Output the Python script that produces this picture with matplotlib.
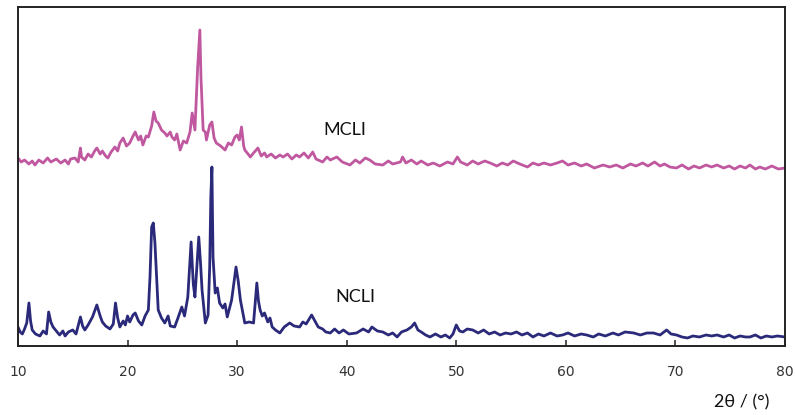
import numpy as np
import matplotlib
matplotlib.use('Agg')
import matplotlib.pyplot as plt

# 2theta (graus) e intensidade relativa - MCLI
mcli_2theta = [10.0, 10.3, 10.6, 11.0, 11.3, 11.55, 11.9, 12.3, 12.7, 13.0,
               13.5, 13.9, 14.3, 14.6, 14.8, 15.2, 15.5, 15.7, 15.8, 16.1,
               16.4, 16.7, 17.0, 17.2, 17.5, 17.7, 18.0, 18.2, 18.5, 18.85,
               19.1, 19.3, 19.6, 19.9, 20.2, 20.5, 20.7, 21.0, 21.2, 21.4,
               21.7, 21.9, 22.2, 22.4, 22.6, 22.8, 23.1, 23.4, 23.6, 23.9,
               24.05, 24.3, 24.5, 24.8, 25.1, 25.4, 25.7, 25.9, 26.15, 26.4,
               26.6, 26.7, 26.9, 27.1, 27.2, 27.5, 27.7, 27.9, 28.1, 28.5,
               28.9, 29.2, 29.5, 29.8, 30.0, 30.2, 30.4, 30.6, 30.7, 31.0,
               31.2, 31.5, 31.9, 32.2, 32.5, 32.7, 33.1, 33.5, 33.9, 34.2,
               34.6, 35.0, 35.4, 35.7, 36.1, 36.5, 36.9, 37.2, 37.8, 38.2,
               38.5, 39.1, 39.6, 40.3, 40.8, 41.2, 41.7, 42.1, 42.6, 43.3,
               43.8, 44.2, 44.9, 45.1, 45.4, 45.9, 46.4, 46.8, 47.4, 47.9,
               48.5, 49.2, 49.7, 50.1, 50.4, 51.0, 51.5, 52.0, 52.6, 53.1,
               53.7, 54.2, 54.7, 55.2, 55.8, 56.5, 57.0, 57.5, 58.0, 58.6,
               59.2, 59.7, 60.2, 60.8, 61.4, 61.9, 62.6, 63.4, 64.0, 64.6,
               65.2, 65.9, 66.4, 67.0, 67.5, 68.1, 68.6, 69.0, 69.5, 70.1,
               70.6, 71.2, 71.7, 72.2, 72.8, 73.3, 73.8, 74.4, 74.9, 75.4,
               75.9, 76.4, 76.8, 77.3, 77.7, 78.2, 78.8, 79.4, 80.0]
mcli_int = [188, 184, 186, 182, 185, 181, 186, 183, 188, 184,
            187, 183, 186, 182, 187, 188, 184, 198, 189, 186,
            192, 189, 195, 198, 192, 195, 190, 188, 194, 199,
            195, 203, 208, 200, 203, 210, 214, 206, 210, 201,
            210, 209, 220, 234, 225, 223, 216, 213, 210, 214,
            209, 206, 212, 196, 205, 203, 214, 233, 216, 279,
            316, 269, 216, 214, 206, 221, 224, 208, 203, 200,
            196, 203, 201, 209, 211, 206, 219, 200, 196, 192,
            189, 193, 198, 190, 193, 189, 192, 188, 191, 189,
            192, 187, 191, 189, 193, 188, 194, 187, 184, 189,
            186, 189, 184, 181, 186, 183, 188, 186, 182, 181,
            185, 182, 184, 189, 183, 186, 182, 185, 181, 183,
            180, 184, 182, 189, 184, 181, 185, 182, 185, 183,
            180, 183, 181, 185, 182, 179, 183, 181, 183, 181,
            183, 185, 181, 183, 180, 182, 178, 181, 179, 181,
            178, 182, 180, 183, 180, 184, 180, 182, 179, 178,
            181, 177, 180, 178, 181, 179, 181, 178, 180, 177,
            180, 178, 181, 177, 179, 177, 180, 177, 178]

# NCLI
ncli_2theta = [10.0, 10.2, 10.4, 10.6, 10.8, 11.0, 11.15, 11.3, 11.6, 12.0,
               12.3, 12.6, 12.8, 13.0, 13.2, 13.5, 13.8, 14.1, 14.3, 14.6,
               15.0, 15.3, 15.7, 15.9, 16.1, 16.4, 16.8, 17.0, 17.2, 17.5,
               17.7, 18.0, 18.4, 18.7, 18.9, 19.1, 19.3, 19.6, 19.8, 20.0,
               20.2, 20.5, 20.7, 21.0, 21.3, 21.6, 21.9, 22.05, 22.2, 22.35,
               22.5, 22.65, 22.8, 23.1, 23.4, 23.7, 23.9, 24.3, 24.6, 24.95,
               25.2, 25.5, 25.8, 26.0, 26.15, 26.5, 26.65, 26.8, 27.1, 27.35,
               27.5, 27.6, 27.7, 27.8, 28.0, 28.2, 28.4, 28.7, 28.9, 29.1,
               29.5, 29.9, 30.1, 30.3, 30.7, 31.1, 31.5, 31.8, 31.95, 32.1,
               32.3, 32.5, 32.8, 33.0, 33.2, 33.5, 33.9, 34.3, 34.8, 35.2,
               35.7, 36.0, 36.3, 36.8, 37.0, 37.4, 37.8, 38.1, 38.5, 38.9,
               39.3, 39.7, 40.2, 40.9, 41.5, 42.0, 42.3, 42.8, 43.3, 43.8,
               44.2, 44.6, 45.0, 45.5, 45.9, 46.2, 46.5, 46.8, 47.2, 47.6,
               48.1, 48.6, 49.0, 49.4, 49.7, 50.0, 50.3, 50.6, 51.0, 51.5,
               52.0, 52.5, 53.0, 53.5, 54.0, 54.5, 55.0, 55.5, 56.0, 56.5,
               57.0, 57.5, 58.0, 58.6, 59.2, 59.7, 60.2, 60.8, 61.4, 61.9,
               62.5, 63.0, 63.6, 64.3, 64.8, 65.4, 66.2, 66.8, 67.4, 68.0,
               68.6, 69.2, 69.6, 70.1, 70.6, 71.1, 71.6, 72.2, 72.8, 73.3,
               73.8, 74.4, 74.9, 75.4, 75.9, 76.4, 76.8, 77.3, 77.8, 78.3,
               78.8, 79.3, 80.0]
ncli_int = [19, 14, 12, 17, 23, 43, 25, 16, 12, 10,
            15, 12, 34, 24, 19, 15, 11, 15, 10, 14,
            16, 12, 29, 20, 16, 21, 29, 35, 41, 30,
            24, 20, 17, 22, 43, 28, 19, 25, 21, 30,
            24, 31, 33, 25, 21, 30, 36, 69, 119, 123,
            103, 70, 36, 28, 23, 30, 20, 19, 28, 39,
            30, 49, 104, 62, 49, 109, 85, 56, 23, 31,
            80, 149, 179, 89, 53, 58, 43, 38, 42, 29,
            46, 79, 65, 46, 23, 24, 23, 63, 45, 36,
            30, 33, 24, 28, 19, 16, 13, 19, 23, 20,
            19, 24, 22, 31, 27, 19, 17, 14, 13, 17,
            13, 16, 12, 13, 17, 14, 19, 15, 14, 11,
            13, 9, 14, 16, 19, 23, 16, 14, 11, 9,
            12, 9, 11, 8, 12, 21, 15, 14, 17, 16,
            13, 16, 12, 14, 11, 13, 12, 14, 11, 13,
            9, 12, 10, 13, 10, 11, 13, 10, 12, 11,
            9, 12, 10, 13, 11, 14, 13, 11, 13, 13,
            11, 16, 12, 11, 9, 8, 10, 9, 11, 10,
            11, 9, 11, 8, 10, 9, 9, 11, 8, 10,
            9, 10, 9]

fig = plt.figure(figsize=(7.95, 4.15), dpi=100)
ax = fig.add_axes([0.0226, 0.1663, 0.9648, 0.8168])

ax.plot(mcli_2theta, mcli_int, color='#c058a0', linewidth=2.0)
ax.plot(ncli_2theta, ncli_int, color='#2b2a7a', linewidth=2.0)

ax.set_xlim(10, 80)
ax.set_ylim(0, 339)
ax.set_xticks(np.arange(10, 81, 10))
ax.set_yticks([])
ax.tick_params(axis='x', direction='in', length=4, width=1.2, pad=14,
               labelsize=10, labelcolor='#333333', colors='#333333')

for s in ax.spines.values():
    s.set_linewidth(1.4)
    s.set_color('#222222')

ax.text(39.8, 216, 'MCLI', fontsize=13, family=['Lato', 'DejaVu Sans'],
        ha='center', va='center', color='#111111')
ax.text(40.8, 49, 'NCLI', fontsize=13, family=['Lato', 'DejaVu Sans'],
        ha='center', va='center', color='#111111')
fig.text(0.933, 0.03, '2θ / (°)', fontsize=13, family=['Lato', 'DejaVu Sans'],
         ha='center', va='center', color='#111111')

plt.savefig('out.png', dpi=100)
